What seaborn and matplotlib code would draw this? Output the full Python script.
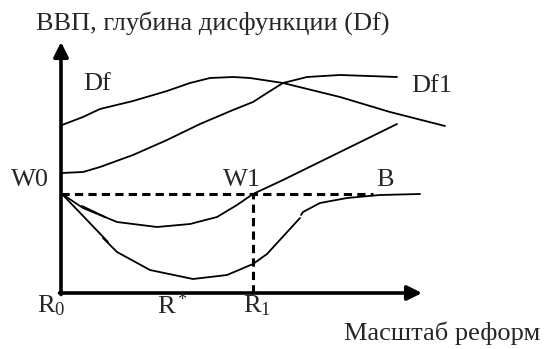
import matplotlib
matplotlib.use("Agg")
import matplotlib.pyplot as plt
import seaborn as sns

# curves (x = reform scale, y = GDP / depth of dysfunction)
df_x = [1, 22, 39, 72, 106, 129, 149, 172, 189, 222, 279, 329, 384]
df_y = [168, 176, 184, 192, 202, 210, 215, 216, 215, 210, 196, 181, 167]

df1_x = [1, 22, 39, 72, 106, 139, 172, 192, 206, 222, 246, 279, 336]
df1_y = [120, 121, 126, 138, 153, 169, 183, 191, 200, 210, 216, 218, 216]

w_x = [1, 22, 56, 96, 129, 156, 176, 192, 222, 279, 336]
w_y = [99, 85, 71, 66, 69, 76, 88, 99, 113, 141, 169]
w_extra_x = [21, 44]
w_extra_y = [87, 76]

b1_x = [1, 47]
b1_y = [99, 51]
b2_x = [42, 56, 89, 132, 166, 192, 206, 239]
b2_y = [55, 41, 23, 14, 18, 29, 39, 75]
b3_x = [240, 242, 259, 286, 319, 359]
b3_y = [78, 81, 90, 95, 98, 99]

w0_level = 99
r1_pos = 192
dash_end = 312

sns.set_theme(style="white")
plt.rcParams["font.family"] = ["Liberation Serif", "DejaVu Serif"]
plt.rcParams["mathtext.fontset"] = "custom"
plt.rcParams["mathtext.rm"] = "Liberation Serif"
plt.rcParams["mathtext.it"] = "Liberation Serif:italic"

fig = plt.figure(figsize=(5.44, 3.49), dpi=100)
ax = fig.add_axes([0, 0, 1, 1])
ax.set_xlim(-61, 483)
ax.set_ylim(-56, 293)
ax.axis("off")

line_kw = dict(color="black", linewidth=1.3, sort=False, estimator=None, ax=ax)
for xs, ys in [(df_x, df_y), (df1_x, df1_y), (w_x, w_y), (w_extra_x, w_extra_y),
               (b1_x, b1_y), (b2_x, b2_y), (b3_x, b3_y)]:
    sns.lineplot(x=xs, y=ys, **line_kw)

# dashed guides through W1
dash = (0, (2.7, 1.7))
ax.plot([0, dash_end], [w0_level, w0_level], color="black", lw=2.2, linestyle=dash)
ax.plot([r1_pos, r1_pos], [0, w0_level], color="black", lw=2.2, linestyle=dash)

# axes with arrows
arrow = dict(arrowstyle="-|>", lw=2.6, color="black", mutation_scale=22,
             shrinkA=0, shrinkB=0)
ax.annotate("", xy=(0, 251), xytext=(0, -1.5), arrowprops=arrow)
ax.annotate("", xy=(361, 0), xytext=(-1.5, 0), arrowprops=arrow)

fs = 19
ax.text(-25, 270, "ВВП, глубина дисфункции (Df)", fontsize=fs, ha="left", va="center")
ax.text(36, 209, "Df", fontsize=fs, ha="center", va="center")
ax.text(371, 207, "Df1", fontsize=fs, ha="center", va="center")
ax.text(-31, 113, "W0", fontsize=fs, ha="center", va="center")
ax.text(181, 113, "W1", fontsize=fs, ha="center", va="center")
ax.text(324, 113, "B", fontsize=fs, ha="center", va="center")
ax.text(-24, -13, r"R$_0$", fontsize=fs, ha="left", va="center")
ax.text(96, -13, r"R$^*$", fontsize=fs, ha="left", va="center")
ax.text(182, -13, r"R$_1$", fontsize=fs, ha="left", va="center")
ax.text(283, -40, "Масштаб реформ", fontsize=fs, ha="left", va="center")

fig.savefig("out.png", dpi=100)
